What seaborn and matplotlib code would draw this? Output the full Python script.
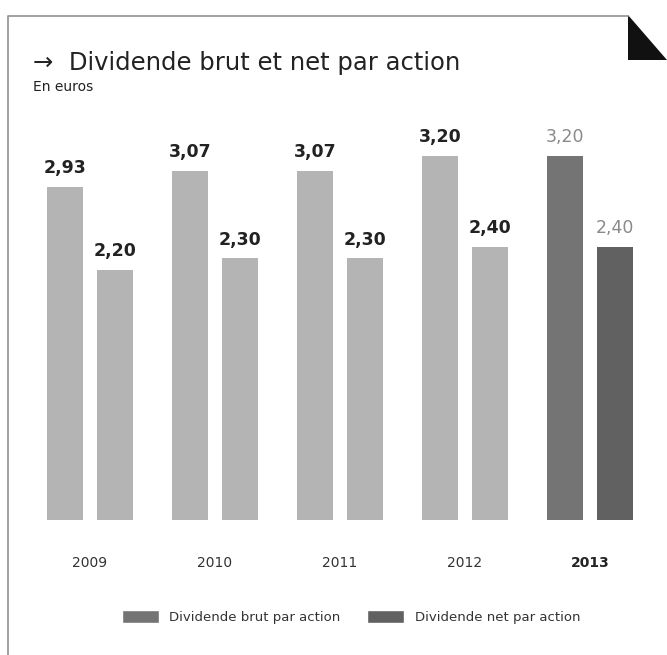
import pandas as pd
import matplotlib.pyplot as plt
import seaborn as sns
from matplotlib.lines import Line2D
from matplotlib.patches import Polygon

# Données
annees = ["2009", "2010", "2011", "2012", "2013"]
brut = [2.93, 3.07, 3.07, 3.20, 3.20]
net = [2.20, 2.30, 2.30, 2.40, 2.40]
series = ["Dividende brut par action", "Dividende net par action"]

df = pd.DataFrame({
    "annee": annees * 2,
    "valeur": brut + net,
    "serie": [series[0]] * len(annees) + [series[1]] * len(annees),
})

sns.set_theme(style="white")
plt.rcParams["font.family"] = ["DejaVu Sans"]

W, H = 667, 655
fig = plt.figure(figsize=(W / 100, H / 100), dpi=100)

# axes: x de 40 à 640 px, y de 100 à 520 px
ax = fig.add_axes([40 / W, (H - 520) / H, 600 / W, 420 / H])

sns.barplot(data=df, x="annee", y="valeur", hue="serie", order=annees,
            hue_order=series, palette=["#747474", "#616161"],
            width=0.8, gap=0.28, ax=ax, legend=True)

# barres des années passées en gris clair
gris_clair = "#b4b4b4"
for cont in ax.containers:
    for i, bar in enumerate(cont):
        if i < len(annees) - 1:
            bar.set_facecolor(gris_clair)
        bar.set_edgecolor("none")

# étiquettes de valeurs
for cont in ax.containers:
    for i, bar in enumerate(cont):
        v = bar.get_height()
        derniere = i == len(annees) - 1
        ax.annotate(f"{v:.2f}".replace(".", ","),
                    (bar.get_x() + bar.get_width() / 2, v),
                    xytext=(0, 7), textcoords="offset points",
                    ha="center", va="bottom", fontsize=12.5,
                    fontweight="normal" if derniere else "bold",
                    color="#8a8a8a" if derniere else "#222222")

ax.set_xlim(-0.4, 4.4)
ax.set_ylim(0, 3.694)
ax.set_xlabel("")
ax.set_ylabel("")
ax.set_yticks([])
ax.tick_params(axis="x", length=0, pad=26, labelsize=10, colors="#333333")
for lab in ax.get_xticklabels():
    if lab.get_text() == "2013":
        lab.set_fontweight("bold")
        lab.set_color("#222222")
sns.despine(ax=ax, left=True, bottom=True)

sns.move_legend(ax, "center", bbox_to_anchor=(351 / W, (H - 617) / H),
                bbox_transform=fig.transFigure, ncol=2, frameon=False,
                title=None, fontsize=9.5, handlelength=2.8, handleheight=1.1,
                columnspacing=2.0, handletextpad=0.8)
for t in ax.get_legend().get_texts():
    t.set_color("#333333")

# titre
fig.text(33 / W, 1 - 63 / H, "\u2192  Dividende brut et net par action",
         fontsize=17.5, color="#222222", va="center", ha="left")
fig.text(33 / W, 1 - 87 / H, "En euros", fontsize=10, color="#222222",
         va="center", ha="left")

# cadre et coin
fig.add_artist(Line2D([8 / W, 8 / W, 628 / W], [0, 1 - 16 / H, 1 - 16 / H],
                      transform=fig.transFigure, color="#999999", lw=1.3))
fig.add_artist(Polygon([(628 / W, 1 - 15 / H), (628 / W, 1 - 60 / H), (1, 1 - 60 / H)],
                       closed=True, transform=fig.transFigure,
                       facecolor="#111111", edgecolor="none"))

plt.savefig("out.png", dpi=100)
plt.close()
